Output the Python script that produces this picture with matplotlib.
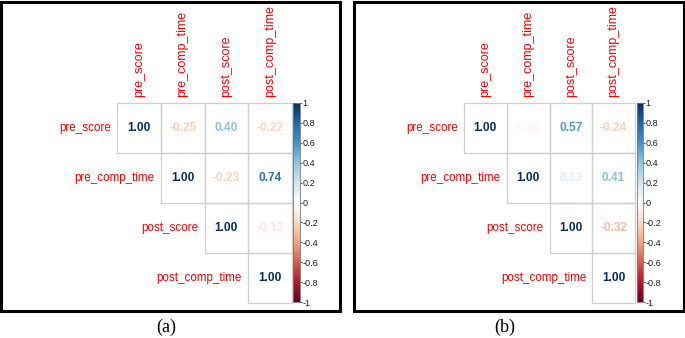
import matplotlib
matplotlib.use("Agg")
import matplotlib.pyplot as plt
import numpy as np
from matplotlib.colors import LinearSegmentedColormap, Normalize
from matplotlib.patches import Rectangle
from matplotlib.cm import ScalarMappable

# ── Données ────────────────────────────────────────────────────────────────
variables = ["pre_score", "pre_comp_time", "post_score", "post_comp_time"]

# triangle supérieur, ligne par ligne (diagonale incluse)
upper_a = [
    [1.00, -0.25, 0.40, -0.22],
    [1.00, -0.23, 0.74],
    [1.00, -0.13],
    [1.00],
]
upper_b = [
    [1.00, -0.07, 0.57, -0.24],
    [1.00, 0.13, 0.41],
    [1.00, -0.32],
    [1.00],
]
captions = ["(a)", "(b)"]
cbar_ticks = [1, 0.8, 0.6, 0.4, 0.2, 0, -0.2, -0.4, -0.6, -0.8, -1]

# palette corrplot
CORR_COLORS = ["#67001F", "#B2182B", "#D6604D", "#F4A582", "#FDDBC7", "#FFFFFF",
               "#D1E5F0", "#92C5DE", "#4393C3", "#2166AC", "#053061"]
cmap = LinearSegmentedColormap.from_list("corrplot", CORR_COLORS, N=200)
norm = Normalize(-1, 1)

W, H = 685, 338
plt.rcParams["axes.unicode_minus"] = False
plt.rcParams["font.family"] = ["Liberation Sans", "DejaVu Sans"]

fig = plt.figure(figsize=(W / 100, H / 100), dpi=100)


def to_fig(x0, y0, x1, y1):
    """Boîte en pixels (haut-gauche, bas-droite) -> [left, bottom, w, h] figure."""
    return [x0 / W, 1 - y1 / H, (x1 - x0) / W, (y1 - y0) / H]


def draw_panel(upper, box, grid_left, grid_right, cbar_x, caption, cap_x):
    n = len(variables)
    grid_top, grid_bottom = 103, 303

    # cadre noir du panneau
    bx = to_fig(*box)
    fig.add_artist(Rectangle((bx[0], bx[1]), bx[2], bx[3], transform=fig.transFigure,
                             fill=False, edgecolor="black", linewidth=2.2))

    ax = fig.add_axes(to_fig(grid_left, grid_top, grid_right, grid_bottom))
    ax.set_xlim(0, n)
    ax.set_ylim(n, 0)
    ax.axis("off")

    for i, row in enumerate(upper):
        for k, val in enumerate(row):
            j = i + k
            ax.add_patch(Rectangle((j, i), 1, 1, fill=False, edgecolor="#cfcfcf",
                                   linewidth=0.9, clip_on=False))
            ax.text(j + 0.5, i + 0.5, f"{val:.2f}", ha="center", va="center",
                    fontsize=8.6, fontweight="bold", color=cmap(norm(val)))
        # libellé de ligne
        ax.text(i - 0.14, i + 0.5, variables[i], ha="right", va="center",
                fontsize=8.4, color="red", clip_on=False)

    for j, name in enumerate(variables):
        ax.text(j + 0.5, -0.12, name, ha="center", va="bottom", rotation=90,
                fontsize=9, color="red", clip_on=False)

    # barre de couleur
    cax = fig.add_axes(to_fig(cbar_x, grid_top, cbar_x + 6.5, grid_bottom - 1))
    cb = fig.colorbar(ScalarMappable(norm=norm, cmap=cmap), cax=cax, ticks=cbar_ticks)
    cb.outline.set_edgecolor("#777777")
    cb.outline.set_linewidth(0.6)
    cax.set_yticklabels([f"{t:g}" for t in cbar_ticks])
    cax.tick_params(length=1.5, width=0.5, pad=0.5, labelsize=6.6, colors="#222222")

    fig.text(cap_x / W, 1 - 327 / H, caption, ha="center", va="center",
             fontsize=13, family=["Liberation Serif", "DejaVu Serif"])


draw_panel(upper_a, (1, 1.5, 340, 311), 117, 292, 293, captions[0], 166)
draw_panel(upper_b, (354, 1.5, 684, 311), 464, 635, 636.5, captions[1], 505)

fig.savefig("out.png", dpi=100)
